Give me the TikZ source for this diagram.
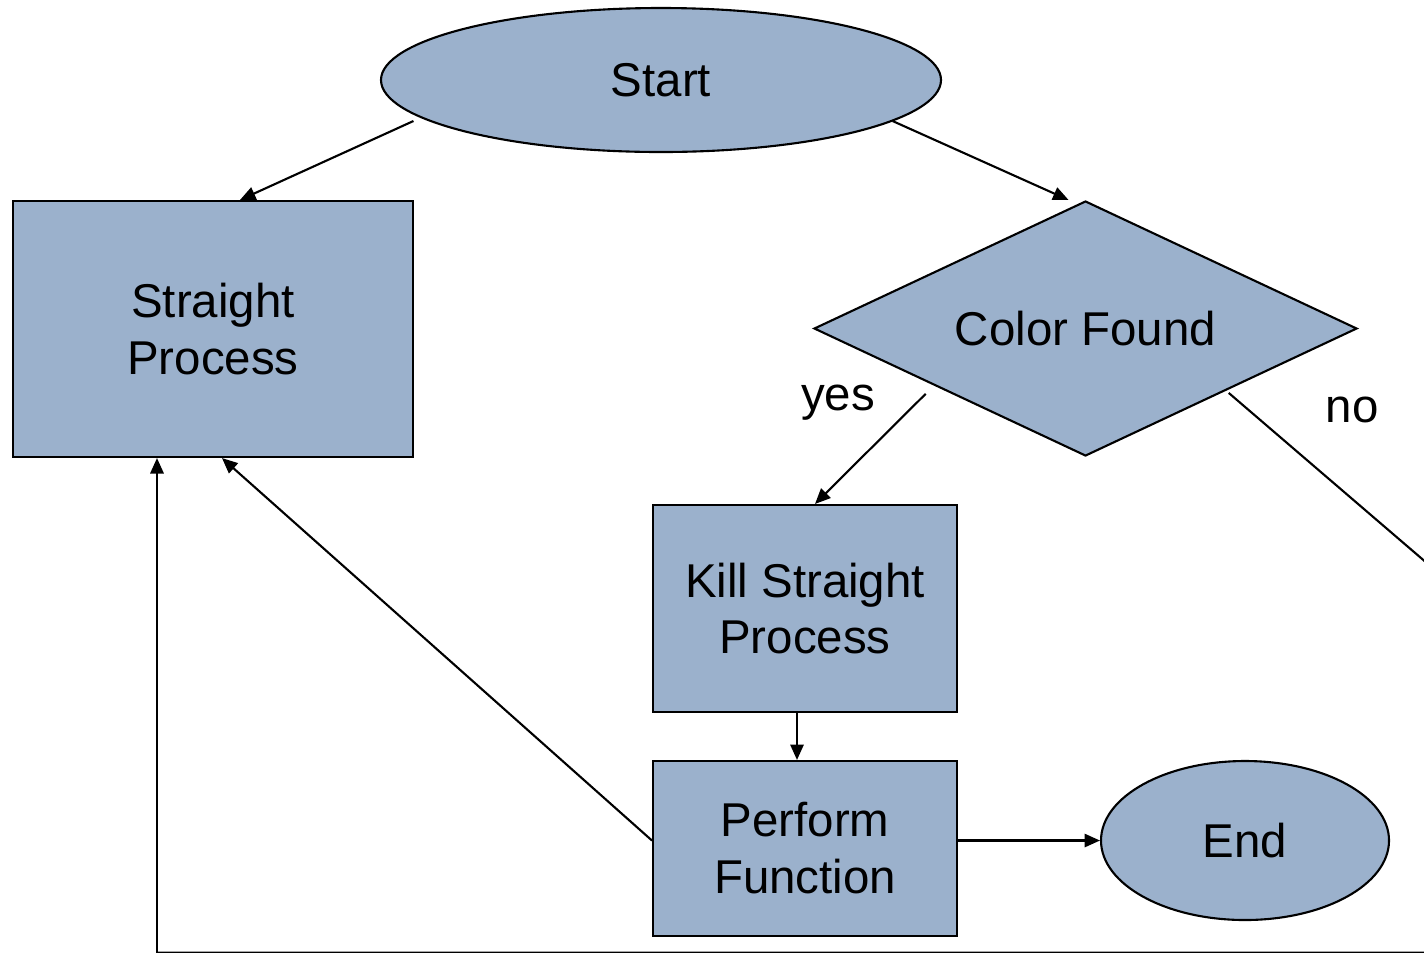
\documentclass[tikz,border=0pt]{standalone}
\usepackage{fontspec}
\setmainfont{Liberation Sans}
\usepackage{tikz}
\usetikzlibrary{arrows.meta,shapes.geometric}
\definecolor{boxfill}{HTML}{9BB1CC}
\tikzset{
  box/.style={draw=black, fill=boxfill, line width=0.6pt, inner sep=0pt, align=center, font=\fontsize{13.5}{16.2}\selectfont},
  oval/.style={box, ellipse},
  decide/.style={box, diamond, aspect=2.13},
  con/.style={draw=black, line width=0.6pt, -{Triangle[length=4.4pt,width=3.8pt]}},
  line/.style={draw=black, line width=0.6pt},
  lab/.style={font=\fontsize{13.5}{16.2}\selectfont},
}

\begin{document}
\begin{tikzpicture}
  \useasboundingbox (0,0) rectangle (14.24,-9.52);
  \node[oval, minimum width=5.6cm, minimum height=1.44cm] (start) at (6.61,-0.80) {Start};
  \node[box, minimum width=4.0cm, minimum height=2.56cm] (straight) at (2.13,-3.29) {Straight\\Process};
  \node[decide, minimum width=5.43cm, minimum height=2.55cm] (found) at (10.855,-3.285) {Color Found};
  \node[box, minimum width=3.04cm, minimum height=2.07cm] (kill) at (8.05,-6.085) {Kill Straight\\Process};
  \node[box, minimum width=3.04cm, minimum height=1.75cm] (perform) at (8.05,-8.485) {Perform\\Function};
  \node[oval, minimum width=2.88cm, minimum height=1.59cm] (end) at (12.45,-8.405) {End};
  \node[lab] (yes) at (8.38,-4.03) {yes};
  \node[lab] (no) at (13.52,-4.10) {no};
  \coordinate (loopa) at (15.2,-6.43);
  \coordinate (loopb) at (15.2,-9.527);
  \coordinate (loopc) at (1.57,-9.527);
  \draw[con] ([xshift=-0.15cm]start.190) -- ([xshift=0.27cm]straight.north);
  \draw[con] ([xshift=-0.01cm]start.-10) -- ([xshift=-0.17cm]found.north);
  \draw[con] ([shift={(-0.13cm,-0.06cm)}]found.202) -- ([xshift=0.10cm]kill.north);
  \draw[line] ([shift={(0.03cm,-0.02cm)}]found.-24) -- (loopa) -- (loopb) -- (loopc);
  \draw[con] ([xshift=-0.08cm]kill.south) -- ([xshift=-0.08cm]perform.north);
  \draw[con] (perform.east |- end.west) -- (end.west);
  \draw[con] (perform.west |- end.west) -- ([xshift=0.09cm]straight.south);
  \draw[con] (loopc) -- ([xshift=-0.56cm]straight.south);
\end{tikzpicture}
\end{document}
